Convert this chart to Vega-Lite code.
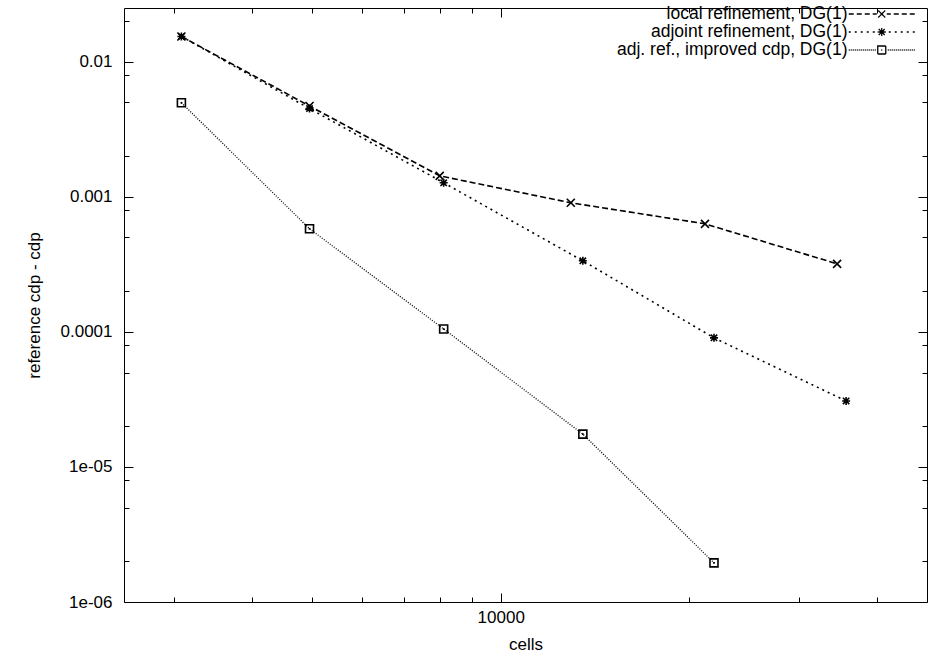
{
  "$schema": "https://vega.github.io/schema/vega-lite/v6.json",
  "width": 803,
  "height": 594,
  "autosize": "none",
  "padding": {"left": 124, "top": 8, "right": 10, "bottom": 55},
  "background": "white",
  "config": {
    "view": {"stroke": "black", "strokeWidth": 1},
    "font": "Liberation Sans",
    "axis": {
      "domain": false, "grid": false, "tickColor": "black", "tickWidth": 1,
      "labelColor": "black", "titleColor": "black",
      "labelFont": "Liberation Sans", "titleFont": "Liberation Sans",
      "labelFontSize": 17, "titleFontSize": 17, "titleFontWeight": "normal"
    }
  },
  "datasets": {
    "pts": [
      {"series": "local refinement, DG(1)", "cells": 3088, "diff": 0.01539},
      {"series": "local refinement, DG(1)", "cells": 4948, "diff": 0.0047},
      {"series": "local refinement, DG(1)", "cells": 7989, "diff": 0.00143},
      {"series": "local refinement, DG(1)", "cells": 12942, "diff": 0.000903},
      {"series": "local refinement, DG(1)", "cells": 21204, "diff": 0.000631},
      {"series": "local refinement, DG(1)", "cells": 34480, "diff": 0.000319},
      {"series": "adjoint refinement, DG(1)", "cells": 3088, "diff": 0.01539},
      {"series": "adjoint refinement, DG(1)", "cells": 4948, "diff": 0.0045},
      {"series": "adjoint refinement, DG(1)", "cells": 8106, "diff": 0.00127},
      {"series": "adjoint refinement, DG(1)", "cells": 13528, "diff": 0.000336},
      {"series": "adjoint refinement, DG(1)", "cells": 21918, "diff": 0.0000903},
      {"series": "adjoint refinement, DG(1)", "cells": 35645, "diff": 0.0000308},
      {"series": "adj. ref., improved cdp, DG(1)", "cells": 3088, "diff": 0.00497},
      {"series": "adj. ref., improved cdp, DG(1)", "cells": 4948, "diff": 0.00058},
      {"series": "adj. ref., improved cdp, DG(1)", "cells": 8106, "diff": 0.000105},
      {"series": "adj. ref., improved cdp, DG(1)", "cells": 13528, "diff": 0.0000175},
      {"series": "adj. ref., improved cdp, DG(1)", "cells": 21918, "diff": 0.00000195}
    ]
  },
  "data": {"name": "pts"},
  "layer": [
    {
      "transform": [{"filter": "datum.series === 'local refinement, DG(1)'"}],
      "mark": {"type": "line", "strokeWidth": 1.6, "strokeDash": [6, 3], "clip": true},
      "encoding": {
        "x": {"field": "cells", "type": "quantitative",
          "scale": {"type": "log", "domain": [2500, 48000], "nice": false},
          "axis": {"orient": "bottom", "values": [10000], "format": "d", "tickSize": -9, "labelPadding": 16, "title": "cells", "titlePadding": 11}},
        "y": {"field": "diff", "type": "quantitative",
          "scale": {"type": "log", "domain": [0.000001, 0.025], "nice": false},
          "axis": {"orient": "left", "values": [0.000001, 0.00001, 0.0001, 0.001, 0.01], "tickSize": -9, "labelPadding": 21,
            "labelExpr": "datum.value > 0.005 ? '0.01' : datum.value > 0.0005 ? '0.001' : datum.value > 0.00005 ? '0.0001' : datum.value > 0.000005 ? '1e-05' : '1e-06'",
            "title": "reference cdp - cdp", "titlePadding": 17}},
        "color": {"field": "series", "type": "nominal",
          "scale": {"domain": ["local refinement, DG(1)", "adjoint refinement, DG(1)", "adj. ref., improved cdp, DG(1)"], "range": ["black", "black", "black"]},
          "legend": {
            "title": null, "orient": "none", "legendX": 700, "legendY": -2.75,
            "symbolSize": 100, "symbolOffset": 49, "labelAlign": "right", "labelOffset": -43,
            "labelFontSize": 17.5, "labelFont": "Liberation Sans", "labelColor": "black",
            "rowPadding": -2, "padding": 0, "labelLimit": 400,
            "encode": {"symbols": {"update": {
              "shape": {"signal": "datum.value === 'local refinement, DG(1)' ? 'M-6.6,0L-5.6,0M-5,0L-4,0M-3.4,0L-2.4,0M-1.8,0L-1,0M-0.7,-0.7L0.7,0.7M-0.7,0.7L0.7,-0.7M1,0L1.8,0M2.4,0L3.4,0M4,0L5,0M5.6,0L6.6,0' : datum.value === 'adjoint refinement, DG(1)' ? 'M-6.6,0h0.4M-5.4,0h0.4M-4.2,0h0.4M-3,0h0.4M-1.8,0h0.4M-0.6,-0.6L0.6,0.6M-0.6,0.6L0.6,-0.6M-0.8,0L0.8,0M0,-0.8L0,0.8M1.4,0h0.4M2.6,0h0.4M3.8,0h0.4M5,0h0.4M6.2,0h0.4' : 'M-6.6,0h0.2M-6.2,0h0.2M-5.8,0h0.2M-5.4,0h0.2M-5,0h0.2M-4.6,0h0.2M-4.2,0h0.2M-3.8,0h0.2M-3.4,0h0.2M-3,0h0.2M-2.6,0h0.2M-2.2,0h0.2M-1.8,0h0.2M-1.4,0h0.2M-0.8,-0.8H0.8V0.8H-0.8ZM-0.1,0h0.2M1.2,0h0.2M1.6,0h0.2M2,0h0.2M2.4,0h0.2M2.8,0h0.2M3.2,0h0.2M3.6,0h0.2M4,0h0.2M4.4,0h0.2M4.8,0h0.2M5.2,0h0.2M5.6,0h0.2M6,0h0.2M6.4,0h0.2'"},
              "stroke": {"value": "black"},
              "strokeWidth": {"value": 1.3},
              "strokeDash": {"value": [1, 0]},
              "fill": {"value": "transparent"},
              "opacity": {"value": 1}
            }}}
          }}
      }
    },
    {
      "transform": [{"filter": "datum.series === 'adjoint refinement, DG(1)'"}],
      "mark": {"type": "line", "strokeWidth": 1.6, "strokeDash": [2, 4], "color": "black", "clip": true},
      "encoding": {
        "x": {"field": "cells", "type": "quantitative",
          "scale": {"type": "log", "domain": [2500, 48000], "nice": false},
          "axis": {"orient": "bottom", "values": [3000, 4000, 5000, 6000, 7000, 8000, 9000, 20000, 30000, 40000], "labels": false, "tickSize": -5, "title": null}},
        "y": {"field": "diff", "type": "quantitative",
          "scale": {"type": "log", "domain": [0.000001, 0.025], "nice": false},
          "axis": {"orient": "left", "values": [0.000002, 0.000005, 0.000008, 0.00002, 0.00005, 0.00008, 0.0002, 0.0005, 0.0008, 0.002, 0.005, 0.008, 0.02], "labels": false, "tickSize": -5, "title": null}}
      }
    },
    {
      "transform": [{"filter": "datum.series === 'adj. ref., improved cdp, DG(1)'"}],
      "mark": {"type": "line", "strokeWidth": 1.3, "strokeDash": [1, 1.5], "color": "black", "clip": true},
      "encoding": {
        "x": {"field": "cells", "type": "quantitative",
          "scale": {"type": "log", "domain": [2500, 48000], "nice": false},
          "axis": {"orient": "top", "values": [10000], "labels": false, "tickSize": -9, "title": null}},
        "y": {"field": "diff", "type": "quantitative",
          "scale": {"type": "log", "domain": [0.000001, 0.025], "nice": false},
          "axis": {"orient": "right", "values": [0.000001, 0.00001, 0.0001, 0.001, 0.01], "labels": false, "tickSize": -9, "title": null}}
      }
    },
    {
      "transform": [{"filter": "datum.series === 'local refinement, DG(1)'"}],
      "mark": {"type": "point", "shape": "M-1,-1L1,1M-1,1L1,-1", "filled": false, "stroke": "black", "strokeWidth": 1.6, "size": 64, "opacity": 1},
      "encoding": {
        "x": {"field": "cells", "type": "quantitative",
          "scale": {"type": "log", "domain": [2500, 48000], "nice": false},
          "axis": {"orient": "top", "values": [3000, 4000, 5000, 6000, 7000, 8000, 9000, 20000, 30000, 40000], "labels": false, "tickSize": -5, "title": null}},
        "y": {"field": "diff", "type": "quantitative",
          "scale": {"type": "log", "domain": [0.000001, 0.025], "nice": false},
          "axis": {"orient": "right", "values": [0.000002, 0.000005, 0.000008, 0.00002, 0.00005, 0.00008, 0.0002, 0.0005, 0.0008, 0.002, 0.005, 0.008, 0.02], "labels": false, "tickSize": -5, "title": null}}
      }
    },
    {
      "transform": [{"filter": "datum.series === 'adjoint refinement, DG(1)'"}],
      "mark": {"type": "point", "shape": "M-0.8,-0.8L0.8,0.8M-0.8,0.8L0.8,-0.8M-1,0L1,0M0,-1L0,1", "filled": false, "stroke": "black", "strokeWidth": 1.6, "size": 64, "opacity": 1},
      "encoding": {
        "x": {"field": "cells", "type": "quantitative", "scale": {"type": "log", "domain": [2500, 48000], "nice": false}, "axis": null},
        "y": {"field": "diff", "type": "quantitative", "scale": {"type": "log", "domain": [0.000001, 0.025], "nice": false}, "axis": null}
      }
    },
    {
      "transform": [{"filter": "datum.series === 'adj. ref., improved cdp, DG(1)'"}],
      "mark": {"type": "point", "shape": "square", "filled": false, "stroke": "black", "strokeWidth": 1.6, "size": 64, "opacity": 1},
      "encoding": {
        "x": {"field": "cells", "type": "quantitative", "scale": {"type": "log", "domain": [2500, 48000], "nice": false}, "axis": null},
        "y": {"field": "diff", "type": "quantitative", "scale": {"type": "log", "domain": [0.000001, 0.025], "nice": false}, "axis": null}
      }
    },
    {
      "transform": [{"filter": "datum.series === 'adj. ref., improved cdp, DG(1)'"}],
      "mark": {"type": "square", "size": 3, "color": "black", "opacity": 1},
      "encoding": {
        "x": {"field": "cells", "type": "quantitative", "scale": {"type": "log", "domain": [2500, 48000], "nice": false}, "axis": null},
        "y": {"field": "diff", "type": "quantitative", "scale": {"type": "log", "domain": [0.000001, 0.025], "nice": false}, "axis": null}
      }
    }
  ],
  "resolve": {"axis": {"x": "independent", "y": "independent"}}
}
